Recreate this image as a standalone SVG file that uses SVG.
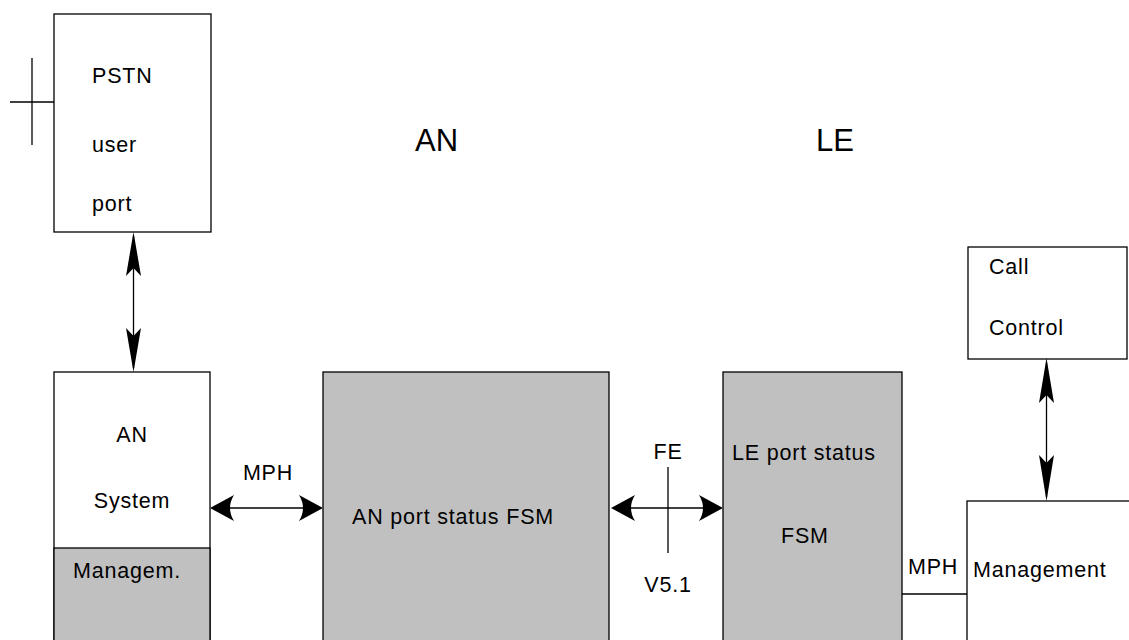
<svg xmlns="http://www.w3.org/2000/svg" width="1129" height="640" viewBox="0 0 1129 640">
<style>
.box{fill:#fff;stroke:#000;stroke-width:1.3}
.gray{fill:#c0c0c0;stroke:#000;stroke-width:1.3}
.ln{stroke:#000;stroke-width:1.3;fill:none}
.hd{fill:#000;stroke:none}
.t{font-family:"Liberation Sans",Arial,sans-serif;font-size:21.5px;letter-spacing:0.8px;fill:#000}
.big{font-family:"Liberation Sans",Arial,sans-serif;font-size:31px;fill:#000}
</style>
<rect width="1129" height="640" fill="#fff"/>
<g id="labels">
<text class="big" x="415" y="151">AN</text>
<text class="big" x="816" y="151">LE</text>
</g>
<g id="pstn">
<rect class="box" x="54" y="14" width="157" height="218"/>
<line class="ln" x1="10" y1="102" x2="54" y2="102"/>
<line class="ln" x1="32" y1="58" x2="32" y2="145"/>
<text class="t" x="92" y="83">PSTN</text>
<text class="t" x="92" y="152">user</text>
<text class="t" x="92" y="211">port</text>
</g>
<g id="an-system">
<rect class="box" x="54" y="372" width="156" height="280"/>
<rect class="gray" x="54" y="548" width="156" height="104"/>
<text class="t" x="132" y="442" text-anchor="middle">AN</text>
<text class="t" x="132" y="508" text-anchor="middle">System</text>
<text class="t" x="73" y="578">Managem.</text>
</g>
<g id="an-fsm">
<rect class="gray" x="323" y="372" width="286" height="280"/>
<text class="t" x="352" y="524">AN port status FSM</text>
</g>
<g id="le-fsm">
<rect class="gray" x="723" y="372" width="179" height="280"/>
<text class="t" x="732" y="460">LE port status</text>
<text class="t" x="781" y="543">FSM</text>
</g>
<g id="call-control">
<rect class="box" x="968" y="247" width="159" height="112"/>
<text class="t" x="989" y="274">Call</text>
<text class="t" x="989" y="335">Control</text>
</g>
<g id="management">
<rect class="box" x="967" y="501" width="180" height="160"/>
<text class="t" x="973" y="577">Management</text>
</g>
<g id="connectors">
<line class="ln" x1="133.5" y1="236" x2="133.5" y2="368"/>
<path class="hd" d="M133.5,232 L141,276 L133.5,268 L126,276 Z"/>
<path class="hd" d="M133.5,372 L141,328 L133.5,336 L126,328 Z"/>
<line class="ln" x1="1046.5" y1="363" x2="1046.5" y2="497"/>
<path class="hd" d="M1046.5,358 L1054,403 L1046.5,395 L1039,403 Z"/>
<path class="hd" d="M1046.5,501 L1054,455 L1046.5,463 L1039,455 Z"/>
<line class="ln" x1="214" y1="508" x2="319" y2="508"/>
<path class="hd" d="M210,508 L234,495 Q226,508 234,521 Z"/>
<path class="hd" d="M323,508 L299,495 Q307,508 299,521 Z"/>
<text class="t" x="268" y="480" text-anchor="middle">MPH</text>
<line class="ln" x1="615" y1="508" x2="719" y2="508"/>
<path class="hd" d="M611,508 L635,495 Q627,508 635,521 Z"/>
<path class="hd" d="M723,508 L699,495 Q707,508 699,521 Z"/>
<line class="ln" x1="668" y1="467" x2="668" y2="553"/>
<text class="t" x="668" y="459" text-anchor="middle">FE</text>
<text class="t" x="668" y="592" text-anchor="middle">V5.1</text>
<line class="ln" x1="902" y1="594" x2="967" y2="594"/>
<text class="t" x="908" y="574">MPH</text>
</g>
</svg>
